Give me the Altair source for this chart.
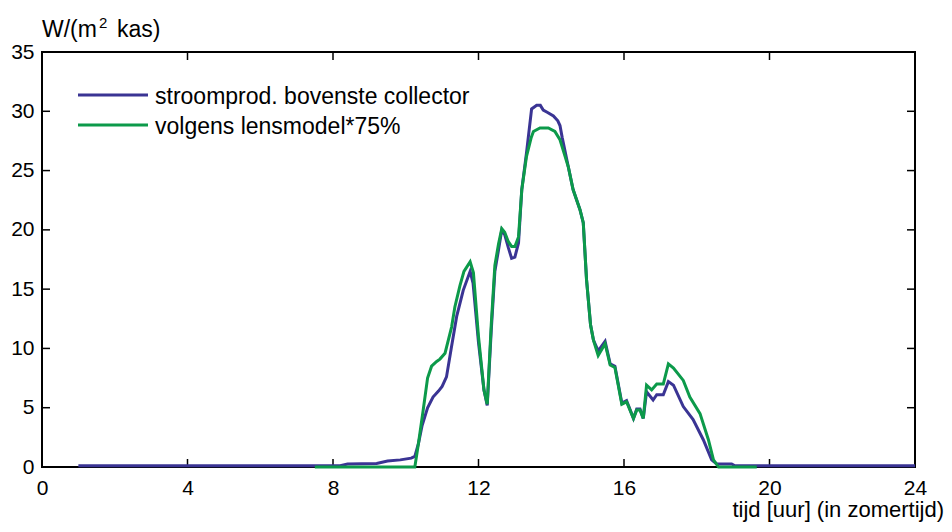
import altair as alt
import pandas as pd

# ---- data ----
blue_hours = [1.0, 8.2, 8.4, 9.2, 9.5, 9.85, 10.15, 10.25, 10.35, 10.45, 10.6, 10.75, 10.9, 11.0,
              11.12, 11.25, 11.4, 11.58, 11.77, 11.85, 12.0, 12.15, 12.24, 12.35, 12.45, 12.55,
              12.64, 12.72, 12.82, 12.91, 13.0, 13.1, 13.19, 13.32, 13.46, 13.6, 13.7, 13.78,
              13.9, 14.06, 14.18, 14.24, 14.3, 14.47, 14.6, 14.79, 14.88, 14.97, 15.08, 15.16,
              15.29, 15.48, 15.62, 15.75, 15.94, 16.07, 16.26, 16.35, 16.44, 16.53, 16.62,
              16.8, 16.9, 17.08, 17.22, 17.36, 17.63, 17.9, 18.18, 18.41, 18.55, 18.96, 19.05, 24.0]
blue_vals = [0.1, 0.1, 0.25, 0.3, 0.5, 0.6, 0.75, 0.9, 2.0, 3.5, 5.0, 5.9, 6.4, 6.8,
             7.6, 10.0, 12.7, 14.9, 16.5, 15.5, 10.5, 6.5, 5.2, 11.5, 16.5, 18.3,
             20.0, 19.6, 18.5, 17.6, 17.7, 18.9, 23.4, 26.5, 30.2, 30.5, 30.5, 30.1,
             29.9, 29.6, 29.2, 28.8, 27.8, 25.3, 23.4, 21.7, 20.6, 15.8, 12.0, 10.7,
             9.8, 10.6, 8.7, 8.5, 5.4, 5.6, 4.1, 4.9, 4.9, 4.1, 6.35,
             5.65, 6.1, 6.1, 7.2, 6.9, 5.1, 4.0, 2.3, 0.6, 0.25, 0.25, 0.1, 0.1]

green_hours = [7.5, 10.25, 10.35, 10.48, 10.6, 10.71, 10.85, 10.94, 11.08, 11.26, 11.35, 11.49,
               11.6, 11.77, 11.86, 12.0, 12.15, 12.24, 12.35, 12.45, 12.55, 12.64, 12.72, 12.82,
               12.91, 13.0, 13.1, 13.19, 13.32, 13.45, 13.51, 13.69, 13.92, 14.1, 14.24, 14.3,
               14.47, 14.6, 14.79, 14.88, 14.97, 15.08, 15.16, 15.29, 15.48, 15.62, 15.75,
               15.94, 16.07, 16.26, 16.35, 16.44, 16.53, 16.62, 16.76, 16.9, 17.08, 17.22,
               17.36, 17.63, 17.81, 18.09, 18.32, 18.46, 18.6, 19.65]
green_vals = [0.0, 0.0, 2.0, 4.8, 7.5, 8.5, 8.9, 9.1, 9.6, 11.8, 13.5, 15.3,
              16.5, 17.3, 16.4, 11.0, 6.5, 5.3, 12.0, 17.0, 18.8, 20.1, 19.8, 19.0,
              18.6, 18.6, 19.4, 23.4, 26.2, 27.8, 28.3, 28.6, 28.6, 28.3, 27.6, 27.0,
              25.3, 23.4, 21.7, 20.6, 15.8, 12.0, 10.7, 9.4, 10.4, 8.6, 8.4,
              5.3, 5.5, 4.1, 4.8, 4.8, 4.1, 6.9, 6.5, 7.0, 7.0, 8.7,
              8.35, 7.3, 5.9, 4.5, 2.3, 0.6, 0.0, 0.0]

x_ticks = [0, 4, 8, 12, 16, 20, 24]
y_ticks = [0, 5, 10, 15, 20, 25, 30, 35]
legend_labels = ["stroomprod. bovenste collector", "volgens lensmodel*75%"]
x_title = "tijd [uur] (in zomertijd)"
y_title_parts = ["W/(m", "2", "kas)"]

BLUE = "#3a3494"
GREEN = "#0c9a4a"
FONT = "Liberation Sans"
W, H = 873, 415

xs = alt.Scale(domain=[0, 24], nice=False, zero=False)
ys = alt.Scale(domain=[0, 35], nice=False)

xaxis = alt.Axis(values=x_ticks, title=None, domain=False, ticks=False, tickSize=0,
                 labelPadding=10, labelFontSize=21, labelFont=FONT, labelColor="black",
                 grid=False, labelFlush=False)
yaxis = alt.Axis(values=y_ticks, title=None, domain=False, ticks=False, tickSize=0,
                 labelPadding=8, labelFontSize=21, labelFont=FONT, labelColor="black",
                 grid=False)

X = lambda: alt.X("t:Q", scale=xs, axis=xaxis)
Y = lambda: alt.Y("v:Q", scale=ys, axis=yaxis)

df_blue = pd.DataFrame({"t": blue_hours, "v": blue_vals})
df_green = pd.DataFrame({"t": green_hours, "v": green_vals})

blue = alt.Chart(df_blue).mark_line(color=BLUE, strokeWidth=3).encode(x=X(), y=Y())
green = alt.Chart(df_green).mark_line(color=GREEN, strokeWidth=3).encode(x=X(), y=Y())

dfy = pd.DataFrame({"v": y_ticks})
dfx = pd.DataFrame({"t": x_ticks})
tick_style = dict(color="black", strokeWidth=1.5)
yt_left = alt.Chart(dfy).mark_rule(**tick_style).encode(
    y=Y(), x=alt.value(0), x2=alt.value(8))
yt_right = alt.Chart(dfy).mark_rule(**tick_style).encode(
    y=Y(), x=alt.value(W - 8), x2=alt.value(W))
xt_bottom = alt.Chart(dfx).mark_rule(**tick_style).encode(
    x=X(), y=alt.value(H), y2=alt.value(H - 8))
xt_top = alt.Chart(dfx).mark_rule(**tick_style).encode(
    x=X(), y=alt.value(0), y2=alt.value(8))

leg1 = pd.DataFrame({"label": [legend_labels[0]]})
leg2 = pd.DataFrame({"label": [legend_labels[1]]})
leg_line1 = alt.Chart(leg1).mark_rule(color=BLUE, strokeWidth=3).encode(
    x=alt.value(36), x2=alt.value(106), y=alt.value(43))
leg_line2 = alt.Chart(leg2).mark_rule(color=GREEN, strokeWidth=3).encode(
    x=alt.value(36), x2=alt.value(106), y=alt.value(73))
txt_style = dict(align="left", baseline="middle", fontSize=23, font=FONT, color="black")
leg_txt1 = alt.Chart(leg1).mark_text(**txt_style).encode(
    x=alt.value(113), y=alt.value(45), text="label:N")
leg_txt2 = alt.Chart(leg2).mark_text(**txt_style).encode(
    x=alt.value(113), y=alt.value(75), text="label:N")

xt = alt.Chart(pd.DataFrame({"s": [x_title]})).mark_text(
    align="right", baseline="alphabetic", fontSize=22, font=FONT, color="black").encode(
    x=alt.value(W + 29), y=alt.value(H + 50), text="s:N")

yt1 = alt.Chart(pd.DataFrame({"s": [y_title_parts[0]]})).mark_text(
    align="left", baseline="alphabetic", fontSize=23, font=FONT, color="black").encode(
    x=alt.value(0), y=alt.value(-15), text="s:N")
yt2 = alt.Chart(pd.DataFrame({"s": [y_title_parts[1]]})).mark_text(
    align="left", baseline="alphabetic", fontSize=15, font=FONT, color="black").encode(
    x=alt.value(57), y=alt.value(-24), text="s:N")
yt3 = alt.Chart(pd.DataFrame({"s": [y_title_parts[2]]})).mark_text(
    align="left", baseline="alphabetic", fontSize=23, font=FONT, color="black").encode(
    x=alt.value(75), y=alt.value(-15), text="s:N")

chart = alt.layer(
    yt_left, yt_right, xt_bottom, xt_top,
    blue, green,
    leg_line1, leg_line2, leg_txt1, leg_txt2,
    xt, yt1, yt2, yt3,
).properties(
    width=W, height=H, autosize="none",
    padding={"left": 34, "top": 44, "right": 29, "bottom": 57},
).configure_view(stroke="black", strokeWidth=2)

chart.save("out.html", embed_options={"renderer": "svg", "actions": False})
